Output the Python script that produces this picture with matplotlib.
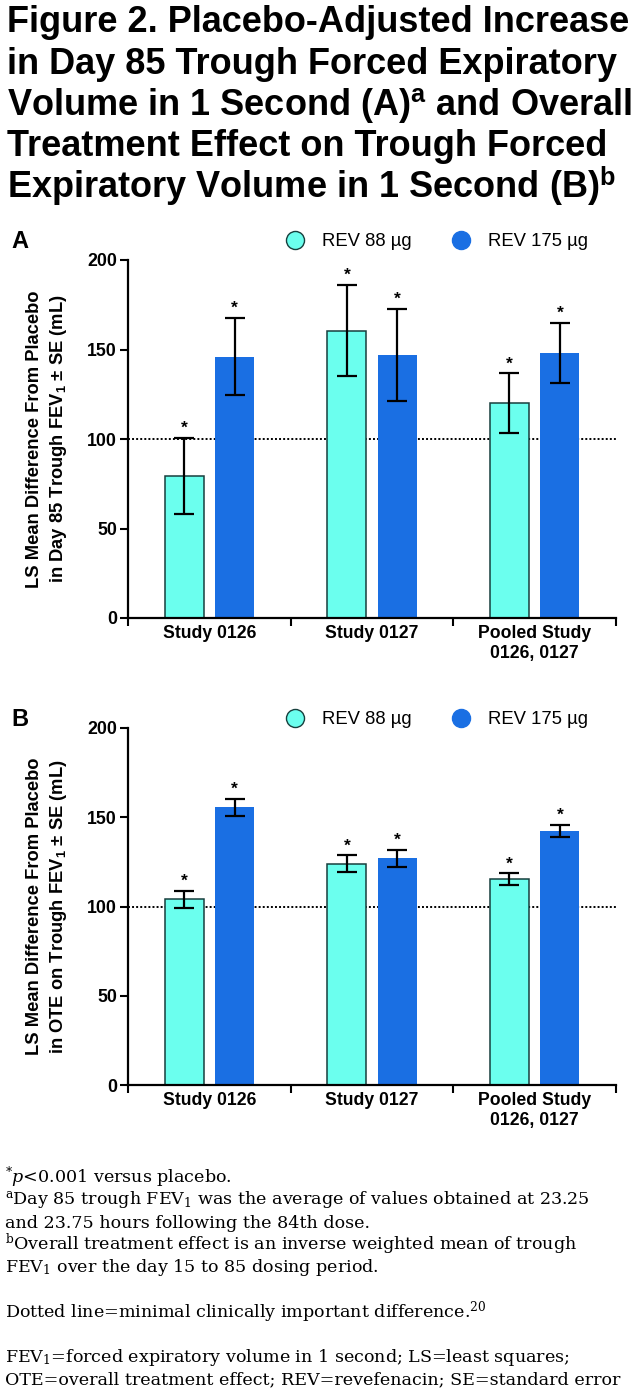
import matplotlib
matplotlib.use("Agg")
import matplotlib.pyplot as plt
from matplotlib.lines import Line2D
import numpy as np

# ---------------- data ----------------
groups = ["Study 0126", "Study 0127", "Pooled Study\n0126, 0127"]
series_names = ["REV 88 \u00b5g", "REV 175 \u00b5g"]

a_rev88 = [79.5, 160.5, 120.0]
a_rev88_se = [21.3, 25.4, 16.6]
a_rev175 = [146.0, 147.0, 148.0]
a_rev175_se = [21.6, 25.5, 16.8]

b_rev88 = [104.0, 124.0, 115.3]
b_rev88_se = [4.6, 4.6, 3.2]
b_rev175 = [155.5, 127.0, 142.3]
b_rev175_se = [4.6, 4.6, 3.2]

mcid = 100
yticks = [0, 50, 100, 150, 200]

title_lines = [
    "Figure 2. Placebo-Adjusted Increase",
    "in Day 85 Trough Forced Expiratory",
    r"Volume in 1 Second (A)$^{\mathbf{a}}$ and Overall",
    "Treatment Effect on Trough Forced",
    r"Expiratory Volume in 1 Second (B)$^{\mathbf{b}}$",
]
ylabel_a = "LS Mean Difference From Placebo\nin Day 85 Trough FEV$_{\\mathbf{1}}$ \u00b1 SE (mL)"
ylabel_b = "LS Mean Difference From Placebo\nin OTE on Trough FEV$_{\\mathbf{1}}$ \u00b1 SE (mL)"

footnotes = [
    (r"$^{*}$$\mathit{p}$<0.001 versus placebo.", 1183),
    (r"$^{\mathrm{a}}$Day 85 trough FEV$_{1}$ was the average of values obtained at 23.25", 1205),
    ("and 23.75 hours following the 84th dose.", 1227.5),
    (r"$^{\mathrm{b}}$Overall treatment effect is an inverse weighted mean of trough", 1250),
    (r"FEV$_{1}$ over the day 15 to 85 dosing period.", 1272),
    (r"Dotted line=minimal clinically important difference.$^{20}$", 1317),
    (r"FEV$_{1}$=forced expiratory volume in 1 second; LS=least squares;", 1361.5),
    ("OTE=overall treatment effect; REV=revefenacin; SE=standard error", 1384),
]

# ---------------- style ----------------
plt.rcParams["mathtext.fontset"] = "custom"
plt.rcParams["mathtext.rm"] = "DejaVu Serif"
plt.rcParams["mathtext.it"] = "DejaVu Serif:italic"
plt.rcParams["mathtext.bf"] = "Liberation Sans:bold"
plt.rcParams["font.family"] = ["Liberation Sans", "DejaVu Sans"]

CYAN = "#6bffee"
CYAN_EDGE = "#173f3d"
BLUE = "#1a6fe3"

W, H = 637, 1394
fig = plt.figure(figsize=(W / 100, H / 100), dpi=100)


def fx(px):
    return px / W


def fy(py):
    return 1 - py / H


# title
title_base = [32, 73.5, 115, 156.5, 198]
for line, yb in zip(title_lines, title_base):
    fig.text(fx(7), fy(yb), line, fontsize=26.0, fontweight="bold",
             ha="left", va="baseline")


def draw_panel(top_px, bottom_px, v88, e88, v175, e175, ylabel, letter, legend_y):
    left, right = 128, 616
    ax = fig.add_axes([fx(left), fy(bottom_px), (right - left) / W,
                       (bottom_px - top_px) / H])
    x = np.arange(len(groups))
    off = 0.155
    bw = 0.24
    ax.axhline(mcid, color="black", linestyle=(0, (1, 1.1)), lw=1.4, zorder=1)
    ax.bar(x - off, v88, bw, color=CYAN, edgecolor=CYAN_EDGE, linewidth=1.1, zorder=2)
    ax.bar(x + off, v175, bw, color=BLUE, edgecolor="none", zorder=2)
    for xs, vals, errs in ((x - off, v88, e88), (x + off, v175, e175)):
        ax.errorbar(xs, vals, yerr=errs, fmt="none", ecolor="black",
                    elinewidth=1.6, capsize=7, capthick=1.6, zorder=3)
        for xi, v, e in zip(xs, vals, errs):
            ax.annotate("*", (xi, v + e), xytext=(0, 1.5), textcoords="offset points",
                        ha="center", va="bottom", fontsize=12.5, fontweight="bold",
                        annotation_clip=False)
    ax.set_xlim(-0.5, 2.5)
    ax.set_ylim(0, 200)
    ax.set_yticks(yticks)
    ax.set_yticklabels([str(t) for t in yticks], fontsize=12.8, fontweight="bold")
    ax.set_xticks([-0.5, 0.5, 1.5, 2.5])
    ax.set_xticklabels([])
    ax.set_xticks(x, minor=True)
    ax.set_xticklabels(groups, minor=True, fontsize=12.7, fontweight="bold",
                       linespacing=1.25)
    ax.tick_params(axis="x", which="minor", length=0, pad=5)
    ax.tick_params(axis="both", which="major", length=6, width=1.5, direction="out")
    ax.tick_params(axis="y", pad=2)
    for s in ("top", "right"):
        ax.spines[s].set_visible(False)
    for s in ("left", "bottom"):
        ax.spines[s].set_linewidth(1.6)
    ax.set_ylabel(ylabel, fontsize=13.2, fontweight="bold", linespacing=1.3, labelpad=13)
    fig.text(fx(11), fy(legend_y), letter, fontsize=17, fontweight="bold",
             ha="left", va="center")
    handles = [
        Line2D([], [], linestyle="none", marker="o", markersize=13,
               markerfacecolor=CYAN, markeredgecolor=CYAN_EDGE, markeredgewidth=1.0),
        Line2D([], [], linestyle="none", marker="o", markersize=13,
               markerfacecolor=BLUE, markeredgecolor=BLUE, markeredgewidth=1.0),
    ]
    fig.legend(handles, series_names, loc="center", bbox_to_anchor=(fx(437), fy(legend_y)),
               ncol=2, frameon=False, fontsize=13.3, handlelength=1.0,
               handletextpad=0.95, columnspacing=2.2, borderpad=0, borderaxespad=0)
    return ax


draw_panel(260, 618, a_rev88, a_rev88_se, a_rev175, a_rev175_se, ylabel_a, "A", 242)
draw_panel(728, 1085, b_rev88, b_rev88_se, b_rev175, b_rev175_se, ylabel_b, "B", 720)

for txt, yb in footnotes:
    fig.text(fx(5), fy(yb), txt, fontsize=12.6, family="DejaVu Serif",
             ha="left", va="baseline")

fig.savefig("out.png", dpi=100)
